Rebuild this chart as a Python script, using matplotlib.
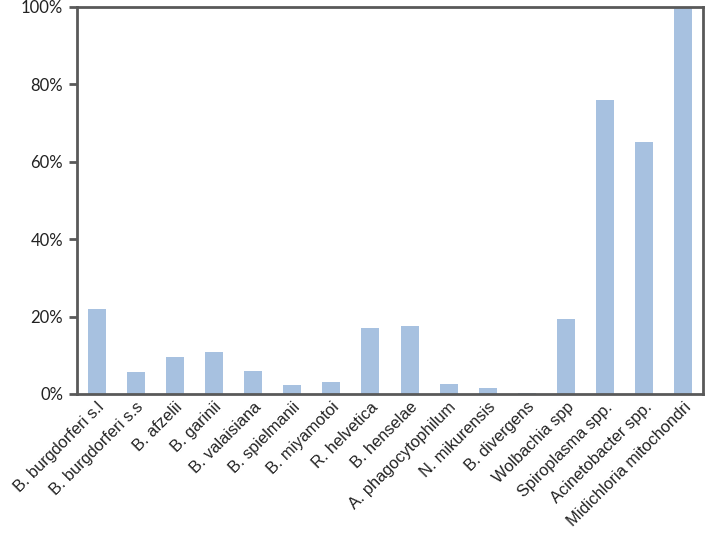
import matplotlib
matplotlib.use("Agg")
import matplotlib.pyplot as plt
from matplotlib.ticker import PercentFormatter

categories = [
    "B. burgdorferi s.l", "B. burgdorferi s.s", "B. afzelii", "B. garinii",
    "B. valaisiana", "B. spielmanii", "B. miyamotoi", "R. helvetica",
    "B. henselae", "A. phagocytophilum", "N. mikurensis", "B. divergens",
    "Wolbachia spp", "Spiroplasma spp.", "Acinetobacter spp.",
    "Midichloria mitochondri",
]
values = [21.9, 5.7, 9.5, 10.8, 6.0, 2.4, 3.1, 17.0,
          17.6, 2.7, 1.5, 0.3, 19.3, 76.0, 65.0, 100.0]
y_ticks = [0, 20, 40, 60, 80, 100]

BAR_COLOR = "#A7C1E0"
SPINE_COLOR = "#595959"

fig = plt.figure(figsize=(7.08, 5.36), dpi=100)
ax = fig.add_axes([0.1088, 0.265, 0.884, 0.722])

x = range(len(categories))
ax.bar(x, values, width=0.46, color=BAR_COLOR)

ax.set_xlim(-0.5, len(categories) - 0.5)
ax.set_ylim(0, 100)
ax.set_yticks(y_ticks)
ax.yaxis.set_major_formatter(PercentFormatter(decimals=0))
for lbl in ax.get_yticklabels():
    lbl.set_fontfamily("Lato")
    lbl.set_fontsize(12)
    lbl.set_color("#222222")

ax.set_xticks(list(x))
ax.set_xticklabels(categories, rotation=45, ha="right", rotation_mode="anchor",
                   fontsize=11.8, family="Liberation Sans", color="#222222")
ax.tick_params(axis="x", length=0, pad=4)
ax.tick_params(axis="y", length=6, width=2, color=SPINE_COLOR, pad=4)

for sp in ax.spines.values():
    sp.set_color(SPINE_COLOR)
    sp.set_linewidth(2)

plt.savefig("out.png", dpi=100)
plt.close()
